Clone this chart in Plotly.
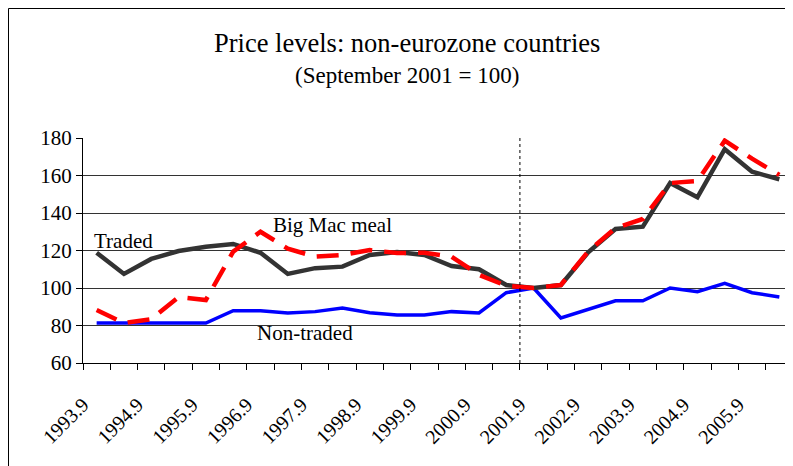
import plotly.graph_objects as go

periods = ["1993.9", "1994.3", "1994.9", "1995.3", "1995.9", "1996.3", "1996.9",
           "1997.3", "1997.9", "1998.3", "1998.9", "1999.3", "1999.9", "2000.3",
           "2000.9", "2001.3", "2001.9", "2002.3", "2002.9", "2003.3", "2003.9",
           "2004.3", "2004.9", "2005.3", "2005.9", "2006.3"]

traded = [118.8, 107.5, 115.5, 119.7, 122.0, 123.5, 118.8, 107.5, 110.6, 111.4,
          117.6, 119.2, 117.6, 111.7, 110.0, 101.6, 100.0, 101.6, 119.0, 131.5,
          132.7, 156.0, 148.4, 174.0, 162.0, 158.0]

big_mac = [88.3, 81.3, 83.4, 95.2, 93.6, 119.4, 130.0, 121.0, 116.7, 117.6,
           120.2, 118.7, 118.8, 116.7, 107.0, 101.2, 100.0, 101.6, 119.5, 132.0,
           136.8, 156.0, 157.0, 178.6, 169.0, 160.3]

non_traded = [81.3, 81.3, 81.3, 81.3, 81.3, 87.9, 87.9, 86.7, 87.4, 89.3,
              86.8, 85.6, 85.6, 87.4, 86.7, 97.5, 100.0, 84.0, 88.5, 93.2,
              93.2, 100.0, 98.0, 102.5, 97.5, 95.2]

serif = "Liberation Serif, Times New Roman, serif"
x = list(range(len(periods)))

# ticks sit on category boundaries, every second one carries a label
tick_pos = [i - 0.5 for i in range(len(periods) + 1)]
tick_txt = [periods[i] if i < len(periods) and i % 2 == 0 else "" for i in range(len(periods) + 1)]

fig = go.Figure()
fig.add_trace(go.Scatter(x=x, y=non_traded, mode="lines", name="Non-traded",
                         line=dict(color="#0000FF", width=3.5)))
fig.add_trace(go.Scatter(x=x, y=traded, mode="lines", name="Traded",
                         line=dict(color="#333333", width=4.5)))
fig.add_trace(go.Scatter(x=x, y=big_mac, mode="lines", name="Big Mac meal",
                         line=dict(color="#FF0000", width=4.5, dash="22px,12px")))


def label(text, px, py, size):
    # px, py are window pixel positions of the text centre (plot area starts at 83, 138)
    return dict(text=text, xref="paper", yref="paper", x=(px - 83) / 710,
                y=(363 - py) / 225, xanchor="center", yanchor="middle",
                showarrow=False, font=dict(size=size, family=serif))


# page body has an 8px margin, so the figure is 8px smaller than the window
fig.update_layout(
    width=785, height=458,
    margin=dict(l=75, r=0, t=130, b=103),
    paper_bgcolor="white", plot_bgcolor="white",
    showlegend=False,
    font=dict(family=serif, color="black"),
    xaxis=dict(range=[-0.5, 25.5], tickmode="array", tickvals=tick_pos, ticktext=tick_txt,
               tickangle=-45, ticks="outside", ticklen=6, tickcolor="black",
               ticklabelstandoff=15, automargin=False,
               showline=True, linecolor="black", linewidth=1, showgrid=False,
               zeroline=False, tickfont=dict(size=20, family=serif)),
    yaxis=dict(range=[60, 180], tickvals=[60, 80, 100, 120, 140, 160, 180],
               ticks="outside", ticklen=6, tickcolor="black", automargin=False,
               showline=True, linecolor="black", linewidth=1,
               showgrid=True, gridcolor="#333333", gridwidth=1, zeroline=False,
               tickfont=dict(size=21, family=serif)),
    shapes=[
        dict(type="line", xref="x", yref="y", x0=15.5, x1=15.5, y0=60, y1=180,
             line=dict(color="black", width=1, dash="dot")),
        dict(type="rect", xref="paper", yref="paper", x0=(0.5 - 75) / 710, x1=1.05,
             y0=-0.6, y1=1 + (130 - 0.5) / 225, line=dict(color="black", width=1)),
    ],
    annotations=[
        label("Price levels: non-eurozone countries", 407, 43, 26.5),
        label("(September 2001 = 100)", 407, 75, 23),
        label("Traded", 123, 241, 21),
        label("Big Mac meal", 332, 225, 21),
        label("Non-traded", 305, 333, 21),
    ],
)

fig.write_html("out.html")
